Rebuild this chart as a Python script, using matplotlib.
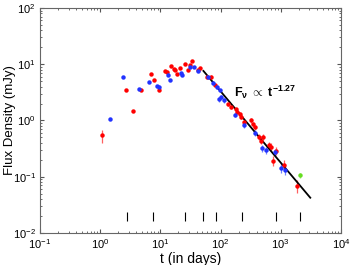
import numpy as np
import matplotlib
matplotlib.use("Agg")
import matplotlib.pyplot as plt

plt.rcParams['font.family'] = ['Liberation Sans', 'DejaVu Sans']
plt.rcParams['mathtext.fontset'] = 'custom'
plt.rcParams['mathtext.rm'] = 'Liberation Sans'
plt.rcParams['mathtext.bf'] = 'Liberation Sans:bold'
plt.rcParams['mathtext.it'] = 'Liberation Sans:italic'

# red points: time (days), flux (mJy), fractional error
red_t = [1.06, 2.65, 3.55, 4.77, 6.98, 7.74, 9.6, 12.0, 12.9, 15.2, 16.6, 17.5,
         19.1, 20.9, 25.9, 28.4, 31.0, 33.9, 42.7, 45.5, 58.7, 69.3, 79.8, 131,
         149, 182, 189, 210, 221, 250, 320, 349, 372, 439, 512, 463, 630, 679,
         750, 832, 1130, 1840]
red_f = [0.54, 3.44, 1.49, 3.53, 6.71, 5.25, 3.53, 7.5, 7.28, 9.42, 8.13, 7.9,
         6.71, 8.57, 9.97, 8.0, 9.8, 11.6, 7.9, 8.47, 6.01, 6.01, 4.32, 1.96,
         1.72, 1.58, 1.42, 1.29, 1.17, 0.92, 1.02, 0.867, 0.757, 0.503, 0.515,
         0.438, 0.366, 0.342, 0.193, 0.29, 0.162, 0.0686]
red_e = [0.25, 0.04, 0.05, 0.04, 0.04, 0.04, 0.04, 0.04, 0.04, 0.04, 0.04, 0.04,
         0.04, 0.04, 0.04, 0.04, 0.04, 0.04, 0.04, 0.04, 0.05, 0.05, 0.05, 0.06,
         0.06, 0.06, 0.06, 0.08, 0.08, 0.1, 0.1, 0.1, 0.1, 0.12, 0.12, 0.12,
         0.15, 0.15, 0.2, 0.15, 0.2, 0.25]

# blue points
blue_t = [1.46, 2.39, 4.47, 6.47, 8.69, 9.37, 13.5, 14.3, 22.0, 22.8, 30.7, 36.6,
          42.2, 61.8, 74.0, 86.2, 96.6, 93, 102, 115, 171, 250, 377, 482, 561,
          801, 1007, 1175]
blue_f = [1.05, 5.86, 3.59, 4.83, 4.16, 3.89, 6.37, 5.25, 7.08, 6.37, 9.04, 8.83,
          7.59, 5.86, 4.70, 3.89, 3.48, 2.38, 2.62, 2.31, 1.25, 0.832, 0.592,
          0.321, 0.299, 0.275, 0.145, 0.132]
blue_e = [0.04, 0.04, 0.04, 0.04, 0.04, 0.04, 0.04, 0.04, 0.04, 0.04, 0.04, 0.04,
          0.04, 0.05, 0.05, 0.06, 0.06, 0.1, 0.1, 0.1, 0.08, 0.1, 0.12, 0.15,
          0.15, 0.15, 0.2, 0.2]

# green point
green_t = [2085]
green_f = [0.106]
green_e = [0.1]

# power-law fit F ~ t^-1.27
fit_index = -1.27
fit_norm = 10 ** 3.06
fit_range = [52, 3100]

# epochs marked along the bottom
mark_t = [2.75, 7.7, 25.6, 51.6, 85, 227, 832, 2110]

fig = plt.figure(figsize=(3.5, 2.65), dpi=100)
ax = fig.add_axes([0.114, 0.121, 0.86, 0.849])

def draw(t, f, e, col, ecol):
    t = np.array(t)
    f = np.array(f)
    err = f * np.array(e)
    ax.errorbar(t, f, yerr=err, fmt='o', ms=3.2, color=col, ecolor=ecol,
                elinewidth=0.9, capsize=0, mec=col, mew=0)

draw(red_t, red_f, red_e, '#ff0000', '#ff6060')
draw(blue_t, blue_f, blue_e, '#2233ff', '#7080ff')
draw(green_t, green_f, green_e, '#66dd22', '#99ee66')

tt = np.logspace(np.log10(fit_range[0]), np.log10(fit_range[1]), 50)
ax.plot(tt, fit_norm * tt ** fit_index, color='k', lw=1.3)

ax.vlines(mark_t, 0.016, 0.024, color='k', lw=0.8)

ax.text(170, 3.1, r'$\mathbf{F_{\nu}}$ $\propto$ $\mathbf{t^{-1.27}}$',
        fontsize=9, va='center', ha='left')

ax.set_xscale('log')
ax.set_yscale('log')
ax.set_xlim(0.1, 1e4)
ax.set_ylim(0.01, 100)
ax.set_xlabel('t (in days)', fontsize=10, labelpad=1)
ax.set_ylabel('Flux Density (mJy)', fontsize=9.5, va='center')
ax.yaxis.set_label_coords(-0.098, 0.5)
ax.tick_params(which='both', direction='in', top=True, right=True,
               colors='#555555', labelcolor='k', labelsize=8)
ax.tick_params(which='major', length=3, pad=3)
ax.tick_params(which='minor', length=1.5)
for s in ax.spines.values():
    s.set_color('#666666')
    s.set_linewidth(0.8)

fig.savefig('out.png', dpi=100)
